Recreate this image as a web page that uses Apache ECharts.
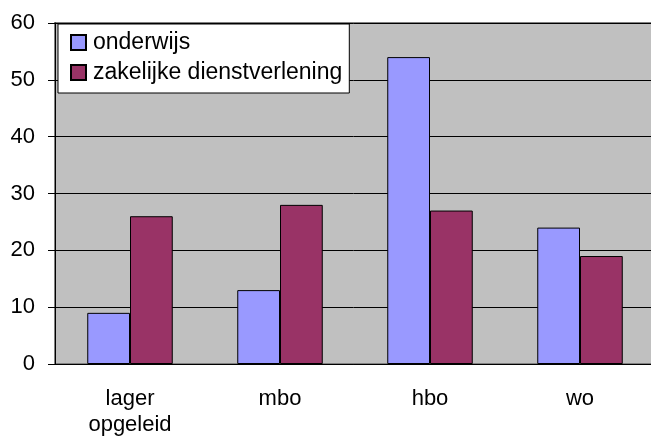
<!DOCTYPE html>
<html>
<head>
<meta charset="utf-8">
<script src="https://cdn.jsdelivr.net/npm/echarts@6/dist/echarts.min.js"></script>
<style>
  html, body { margin: 0; padding: 0; background: #fff; }
  #chart { width: 651px; height: 437px; }
</style>
</head>
<body>
<div id="chart"></div>
<script>
// categorieen en waarden
const categories = ['lager\nopgeleid', 'mbo', 'hbo', 'wo'];
const onderwijs = [9, 13, 54, 24];
const zakelijk = [26, 28, 27, 19];
const yTicks = { min: 0, max: 60, interval: 10 };

const font = 'Liberation Sans, Arial, sans-serif';
const myChart = echarts.init(document.getElementById('chart'));

const option = {
    animation: false,
    textStyle: { fontFamily: font },
    grid: {
        left: 55, right: -4, top: 23, bottom: 73,
        outerBoundsMode: 'none',
        show: true,
        backgroundColor: '#c0c0c0',
        borderColor: '#808080',
        borderWidth: 2
    },
    legend: {
        orient: 'vertical',
        left: 58, top: 24,
        padding: [7, 7, 9, 12],
        icon: 'rect',
        itemWidth: 15, itemHeight: 15, itemGap: 7,
        backgroundColor: '#fff',
        borderColor: '#000', borderWidth: 1,
        textStyle: { fontSize: 23, color: '#000', fontFamily: font, padding: [0, 0, 0, 2] },
        data: ['onderwijs', 'zakelijke dienstverlening']
    },
    xAxis: {
        type: 'category',
        data: categories,
        axisLine: { lineStyle: { color: '#000', width: 1 } },
        axisTick: { length: 7, interval: 0, lineStyle: { color: '#000' } },
        axisLabel: { fontSize: 22, color: '#000', lineHeight: 26, margin: 22, interval: 0 }
    },
    yAxis: {
        type: 'value',
        min: yTicks.min, max: yTicks.max, interval: yTicks.interval,
        axisLine: { show: true, lineStyle: { color: '#000', width: 1 } },
        axisTick: { show: true, length: 7, lineStyle: { color: '#000' } },
        axisLabel: { fontSize: 22, color: '#000', margin: 20 },
        splitLine: { lineStyle: { color: '#000', width: 1 } }
    },
    series: [
        {
            name: 'onderwijs', type: 'bar', data: onderwijs,
            barGap: '0%', barCategoryGap: '43%',
            itemStyle: { color: '#9999ff', borderColor: '#000', borderWidth: 1 }
        },
        {
            name: 'zakelijke dienstverlening', type: 'bar', data: zakelijk,
            itemStyle: { color: '#993366', borderColor: '#000', borderWidth: 1 }
        }
    ]
};

myChart.setOption(option, true);
</script>
</body>
</html>
